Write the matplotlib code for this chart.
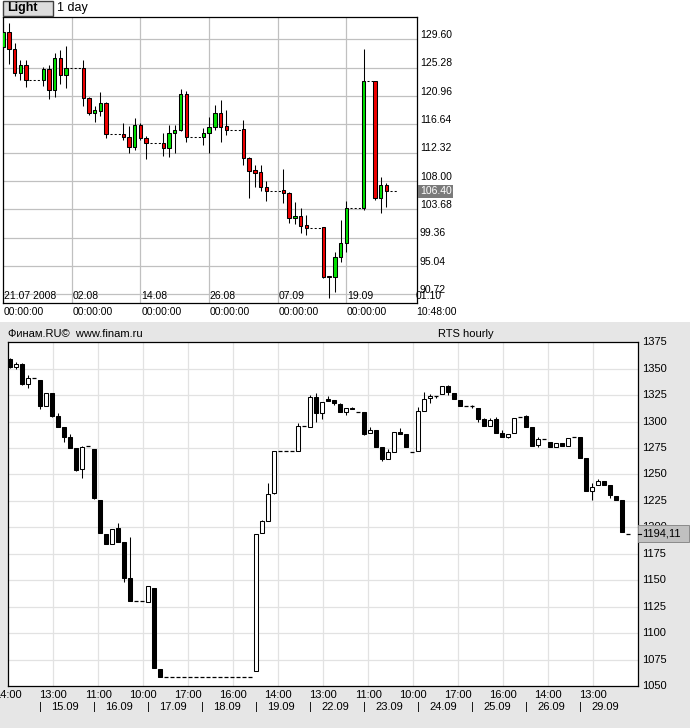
import matplotlib
matplotlib.use("Agg")
import matplotlib.pyplot as plt
import matplotlib.transforms as mtransforms
from matplotlib.patches import Rectangle

plt.rcParams['font.family'] = ['Liberation Sans', 'DejaVu Sans']

W, H = 690, 728

# ---- upper chart: daily candles, x = calendar days from 21.07.2008
day_idx = [0, 1, 2, 3, 4, 7, 8, 9, 10, 11, 14, 15, 16, 17, 18, 21, 22, 23, 24, 25,
           28, 29, 30, 31, 32, 35, 36, 37, 38, 39, 42, 43, 44, 45, 46, 49, 50, 51, 52, 53,
           56, 57, 58, 59, 60, 63, 65, 66, 67]
d_open = [128.47, 130.67, 128.08, 124.42, 125.64,
          123.39, 125.03, 121.82, 126.70, 124.11,
          125.18, 120.60, 118.32, 118.71, 119.84,
          115.11, 114.66, 113.13, 116.53, 114.60,
          113.74, 112.98, 115.26, 115.77, 121.21,
          114.66, 115.26, 116.18, 118.32, 116.38,
          115.92, 111.45, 109.68, 109.32, 107.12,
          106.60, 106.20, 102.30, 102.66, 101.28,
          100.93, 93.56, 93.31, 96.36, 98.49,
          103.83, 123.24, 105.36, 107.38]
d_high = [132.04, 132.04, 129.08, 126.44, 126.44,
          125.42, 125.68, 127.47, 127.97, 128.58,
          126.44, 120.80, 119.43, 121.52, 120.09,
          116.79, 116.38, 117.55, 116.88, 114.85,
          115.26, 116.53, 116.53, 122.02, 121.72,
          116.03, 117.80, 119.58, 120.35, 118.82,
          117.30, 111.60, 110.43, 110.50, 107.99,
          109.87, 106.36, 104.84, 103.83, 102.81,
          100.93, 93.56, 97.21, 102.05, 104.94,
          128.08, 123.24, 108.66, 107.74]
d_low = [128.47, 125.79, 124.00, 123.39, 122.37,
         122.52, 120.45, 120.76, 122.74, 122.13,
         119.43, 118.06, 117.04, 117.90, 114.50,
         114.25, 112.22, 112.72, 114.25, 111.30,
         111.80, 111.60, 112.22, 115.60, 113.99,
         113.48, 112.32, 115.77, 113.99, 115.00,
         110.43, 105.35, 107.12, 106.50, 104.99,
         104.60, 101.54, 101.44, 100.02, 99.76,
         93.20, 90.20, 91.12, 95.60, 97.21,
         103.50, 105.10, 103.07, 104.08]
d_close = [130.67, 128.08, 124.42, 125.64, 123.39,
           125.03, 121.82, 126.70, 124.11, 125.18,
           120.60, 118.32, 118.82, 119.84, 115.11,
           114.66, 113.13, 116.53, 114.50, 113.74,
           112.98, 115.26, 115.77, 121.21, 114.75,
           115.26, 116.18, 118.32, 116.27, 115.77,
           111.45, 109.56, 109.26, 107.12, 106.50,
           106.12, 102.30, 102.66, 101.13, 100.87,
           93.41, 93.31, 96.36, 98.49, 103.83,
           123.24, 105.36, 107.38, 106.40]
top_levels = [129.60, 125.28, 120.96, 116.64, 112.32, 108.00, 103.68, 99.36, 95.04, 90.72]
top_date_days = [0, 12, 24, 36, 48, 60, 72]
top_date_labels = ["21.07 2008", "02.08", "14.08", "26.08", "07.09", "19.09", "01.10"]
top_time_labels = ["00:00:00", "00:00:00", "00:00:00", "00:00:00", "00:00:00", "00:00:00", "10:48:00"]
top_last = 106.40
top_last_day = 69

# ---- lower chart: RTS hourly, x = bar number
h_open = [1359, 1351.6, 1354.8, 1335.6, 1341, 1339.4, 1315.1, 1327.3, 1305.6, 1295.2,
          1285.2, 1274.8, 1255.2, 1277, 1274.1, 1225.9, 1193.5, 1184.6, 1199.1, 1186.5,
          1151.9, 1130.7, 1130.7, 1129.8, 1142.4, 1065.8, 1058.5, 1058.5, 1058.5, 1058.5,
          1058.5, 1058.5, 1058.5, 1058.5, 1058.5, 1058.5, 1058.5, 1058.5, 1058.5, 1058.5,
          1058.5, 1064.5, 1194.4, 1206.3, 1232.2, 1272.2, 1272.2, 1272.2, 1272.5, 1296,
          1295.2, 1323, 1308.4, 1321.1, 1320.2, 1316.7, 1309.4, 1313.2, 1308.8, 1308.8,
          1289, 1292.1, 1275.7, 1264.4, 1271.6, 1289.9, 1288.0, 1271, 1272.5, 1310.3,
          1322.1, 1324.5, 1326.1, 1334, 1326.8, 1320.4, 1314.8, 1314.8, 1312.6, 1302.5,
          1296.2, 1302.2, 1289.0, 1285.7, 1289, 1304.1, 1305.3, 1295.2, 1277.6, 1283.3,
          1281, 1276.3, 1279.5, 1277.2, 1285.7, 1285.2, 1265.3, 1234.7, 1240.1, 1243.9,
          1240.1, 1229.7, 1225.9, 1194.11]
h_high = [1360, 1356.1, 1355, 1344.1, 1341, 1339.4, 1327.3, 1327.3, 1308.4, 1295.2,
          1288, 1274.8, 1277, 1277, 1274.1, 1225.9, 1193.5, 1198.2, 1204.4, 1186.5,
          1191.2, 1130.7, 1130.7, 1144.9, 1142.4, 1065.8, 1058.5, 1058.5, 1058.5, 1058.5,
          1058.5, 1058.5, 1058.5, 1058.5, 1058.5, 1058.5, 1058.5, 1058.5, 1058.5, 1058.5,
          1058.5, 1193.5, 1207, 1241.7, 1272.2, 1272.2, 1272.2, 1272.2, 1299, 1296,
          1325.2, 1327.3, 1318.3, 1324.2, 1320.2, 1317.9, 1312.6, 1314.1, 1308.8, 1308.8,
          1295.2, 1292.1, 1275.7, 1273.8, 1289.9, 1293.7, 1288.0, 1271, 1313.5, 1328.3,
          1326.1, 1324.5, 1334.0, 1334.5, 1326.8, 1320.4, 1314.8, 1315.7, 1312.6, 1303.7,
          1303.7, 1304.7, 1292, 1288.5, 1303.7, 1304.1, 1306.3, 1295.2, 1285.7, 1283.3,
          1281, 1279.5, 1279.5, 1284.2, 1285.7, 1285.2, 1265.3, 1241.7, 1245.8, 1243.9,
          1240.1, 1229.7, 1225.9, 1194.11]
h_low = [1351, 1349.5, 1335, 1332.1, 1341, 1311.7, 1315.1, 1304.7, 1295.2, 1281,
         1274.8, 1253, 1246.4, 1277, 1226.6, 1195.0, 1184.6, 1184.6, 1186.5, 1148.6,
         1130, 1130.7, 1130.7, 1129.2, 1066.8, 1058.8, 1058.5, 1058.5, 1058.5, 1058.5,
         1058.5, 1058.5, 1058.5, 1058.5, 1058.5, 1058.5, 1058.5, 1058.5, 1058.5, 1058.5,
         1058.5, 1064.5, 1194.4, 1206.3, 1231.5, 1272.2, 1272.2, 1272.2, 1272.5, 1296,
         1295.2, 1300, 1302.5, 1319.2, 1315.7, 1309.4, 1306.3, 1311.6, 1308.8, 1287.4,
         1289, 1276.3, 1263, 1264.4, 1271.6, 1288.6, 1276.3, 1271, 1272.5, 1310.3,
         1317.3, 1322, 1326.1, 1325.2, 1321.1, 1315.1, 1314.8, 1312.6, 1299.4, 1296.2,
         1296.2, 1289.6, 1285.7, 1284.5, 1289, 1304.1, 1295.2, 1277.2, 1276.3, 1283.3,
         1276.3, 1276.3, 1277, 1277.2, 1285.7, 1265.3, 1234.4, 1225.9, 1240.1, 1240.1,
         1227.5, 1225.9, 1195.9, 1194.11]
h_close = [1352, 1354.8, 1335.3, 1341.0, 1341, 1315.1, 1327.3, 1305.6, 1295.2, 1285.7,
           1274.8, 1254, 1276.3, 1277, 1227.5, 1195.0, 1184.6, 1198.2, 1186.5, 1152.4,
           1130.7, 1130.7, 1130.7, 1144.9, 1066.8, 1058.8, 1058.5, 1058.5, 1058.5, 1058.5,
           1058.5, 1058.5, 1058.5, 1058.5, 1058.5, 1058.5, 1058.5, 1058.5, 1058.5, 1058.5,
           1058.5, 1193.5, 1206.0, 1231.3, 1272.2, 1272.2, 1272.2, 1272.2, 1295.9, 1296,
           1323.0, 1308.4, 1318.3, 1319.2, 1317.3, 1309.4, 1312.6, 1311.6, 1308.8, 1288.3,
           1292.1, 1276.3, 1264.4, 1271.0, 1289.9, 1288.6, 1276.3, 1271, 1310.3, 1321.1,
           1324.5, 1324.5, 1334.0, 1327.7, 1321.1, 1315.1, 1314.8, 1314.8, 1302.5, 1296.2,
           1301.5, 1289.6, 1285.7, 1288.0, 1303.7, 1304.1, 1295.2, 1277.2, 1283.9, 1283.3,
           1276.3, 1279.5, 1277, 1284.2, 1285.7, 1265.3, 1234.4, 1238.4, 1244.2, 1240.1,
           1230.6, 1225.9, 1195.9, 1194.11]
hour_labels = ["14:00", "13:00", "11:00", "10:00", "17:00", "16:00", "14:00",
               "13:00", "11:00", "10:00", "17:00", "16:00", "14:00", "13:00"]
hour_grid = [-0.33, 7.17, 14.67, 22.17, 29.67, 37.17, 44.67,
             52.17, 59.67, 67.17, 74.67, 82.17, 89.67, 97.17]
day_start = [5, 14, 23, 32, 41, 50, 59, 68, 77, 86, 95]
day_labels = ["15.09", "16.09", "17.09", "18.09", "19.09", "22.09",
              "23.09", "24.09", "25.09", "26.09", "29.09"]
rts_levels = [1050, 1075, 1100, 1125, 1150, 1175, 1200, 1225, 1250, 1275, 1300, 1325, 1350, 1375]
rts_last = 1194.11


def fx(x):
    return x / W


def fy(y):
    return 1 - y / H


def draw_candles(ax, x, o, hi, lo, c, up, down, width):
    ax.vlines(x, lo, hi, color='black', lw=0.75, zorder=2)
    for xi, oi, ci in zip(x, o, c):
        if oi == ci:
            ax.hlines(ci, xi - width / 2, xi + width / 2, color='black', lw=0.9, zorder=3)
        else:
            ax.bar(xi, abs(ci - oi), bottom=min(oi, ci), width=width,
                   color=up if ci > oi else down, edgecolor='black', linewidth=0.75, zorder=3)


fig = plt.figure(figsize=(W / 100, H / 100), dpi=100)
fig.add_artist(Rectangle((0, 0), 1, fy(322), transform=fig.transFigure,
                         fc='#e6e6e6', ec='none', zorder=-5))

# ---------------- upper chart
ax1 = fig.add_axes([fx(2.5), fy(303), (416.5 - 2.5) / W, (303 - 17) / H])
draw_candles(ax1, day_idx, d_open, d_high, d_low, d_close, '#00e000', '#ee0000', 0.6)
for k in range(len(day_idx)):
    nxt = day_idx[k + 1] if k + 1 < len(day_idx) else top_last_day + 0.4
    if nxt - day_idx[k] > 1:
        ax1.plot([day_idx[k] + 0.6, nxt - 0.4], [d_close[k], d_close[k]], color='black',
                 lw=0.75, linestyle=(0, (2, 2)), zorder=2)
ax1.set_xlim(-0.12, 72.26)
ax1.set_ylim(89.39, 133.0)
ax1.set_xticks(top_date_days[1:-1])
ax1.set_yticks(top_levels)
ax1.grid(True, color='#c0c0c0', lw=0.9, zorder=0)
ax1.tick_params(length=0, labelleft=False, labelbottom=False)
for s in ax1.spines.values():
    s.set_color('black')
    s.set_linewidth(0.9)
for v in top_levels:
    ax1.annotate(f"{v:.2f}", xy=(fx(420), v), xycoords=('figure fraction', 'data'),
                 xytext=(0, 3), textcoords='offset points', va='center', ha='left',
                 fontsize=7.5, annotation_clip=False)
for d, lab, tl in zip(top_date_days, top_date_labels, top_time_labels):
    ax1.annotate(lab, xy=(d, 0), xycoords=('data', 'axes fraction'), xytext=(0.5, 5.2),
                 textcoords='offset points', va='center', ha='left', fontsize=7.5,
                 annotation_clip=False)
    ax1.annotate(tl, xy=(d, 0), xycoords=('data', 'axes fraction'), xytext=(0.5, -6.3),
                 textcoords='offset points', va='center', ha='left', fontsize=7.5,
                 annotation_clip=False)
ax1.add_artist(Rectangle((fx(418), fy(198.5)), 35 / W, 13.5 / H, transform=fig.transFigure,
                         fc='#7a7a7a', ec='none', clip_on=False, zorder=5))
ax1.annotate(f"{top_last:.2f}", xy=(fx(420), top_last), xycoords=('figure fraction', 'data'),
             va='center', ha='left', fontsize=7.5, color='white', annotation_clip=False,
             zorder=6)

fig.add_artist(Rectangle((fx(2.5), fy(15.5)), 50 / W, 14 / H, transform=fig.transFigure,
                         fc='#dcdcdc', ec='#404040', lw=1))
fig.text(fx(7), fy(8.5), "Light", fontsize=9, fontweight='bold', va='center')
fig.text(fx(57), fy(8.5), "1 day", fontsize=9, va='center')

# ---------------- lower chart
ax2 = fig.add_axes([fx(8.3), fy(686), (637.7 - 8.3) / W, (686 - 342.3) / H])
bars = list(range(len(h_open)))
draw_candles(ax2, bars, h_open, h_high, h_low, h_close, 'white', 'black', 0.7)
ax2.set_xlim(-0.33, 104.57)
ax2.set_ylim(1050, 1375)
ax2.set_xticks(hour_grid[1:])
ax2.set_yticks(rts_levels[1:-1])
ax2.grid(True, color='#e2e2e2', lw=0.9, zorder=0)
ax2.tick_params(length=0, labelleft=False, labelbottom=False)
for s in ax2.spines.values():
    s.set_color('black')
    s.set_linewidth(0.9)

bt = mtransforms.blended_transform_factory(ax2.transData, fig.transFigure)
for g, lab in zip(hour_grid, hour_labels):
    ax2.text(g, fy(695), lab, transform=bt, ha='center', va='center', fontsize=8, clip_on=False)
for d, lab in zip(day_start, day_labels):
    ax2.text(d, fy(707.5), "|", transform=bt, ha='center', va='center', fontsize=8, clip_on=False)
    ax2.annotate(lab, xy=(d, fy(707.5)), xycoords=bt, xytext=(8, 0), textcoords='offset points',
                 ha='left', va='center', fontsize=8, annotation_clip=False)
for v in rts_levels:
    ax2.annotate(str(v), xy=(fx(642), v), xycoords=('figure fraction', 'data'),
                 va='center', ha='left', fontsize=8, annotation_clip=False)
ax2.add_artist(Rectangle((fx(637.5), fy(542)), 51 / W, 17 / H, transform=fig.transFigure,
                         fc='#c0c0c0', ec='#8a8a8a', lw=0.7, clip_on=False, zorder=5))
ax2.plot([fx(637.7), fx(640.5)], [fy(533.5), fy(533.5)], transform=fig.transFigure,
         color='black', lw=0.8, clip_on=False, zorder=6)
ax2.annotate(f"{rts_last:.2f}".replace('.', ','), xy=(fx(642), rts_last),
             xycoords=('figure fraction', 'data'), va='center', ha='left', fontsize=8,
             annotation_clip=False, zorder=6)

fig.text(fx(8), fy(334), "Финам.RU©  www.finam.ru", fontsize=8, va='center')
fig.text(fx(438), fy(334), "RTS hourly", fontsize=8, va='center')

fig.savefig("out.png", dpi=100)
